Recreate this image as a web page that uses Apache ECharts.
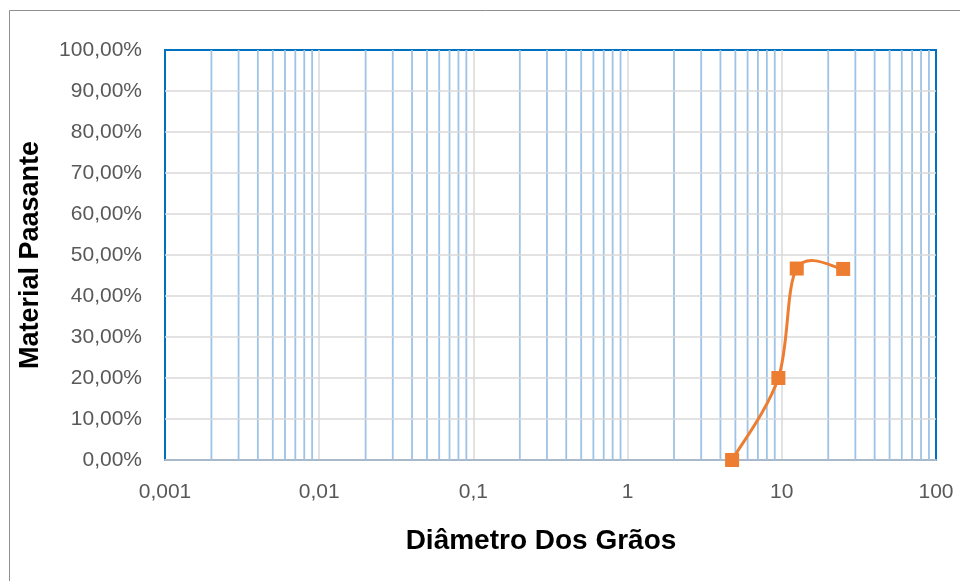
<!DOCTYPE html>
<html>
<head>
<meta charset="utf-8">
<script src="https://cdn.jsdelivr.net/npm/echarts@6/dist/echarts.min.js"></script>
<style>
  html, body { margin: 0; padding: 0; background: #ffffff; }
  #chart { width: 960px; height: 581px; }
</style>
</head>
<body>
<div id="chart"></div>
<script>
// Grain size distribution: diameter (mm) vs. percent passing
const diameters = [4.76, 9.5, 12.5, 25];
const passing = [0, 20, 46.7, 46.6];

// Axis labels
const xTickLabels = ['0,001', '0,01', '0,1', '1', '10', '100'];
const xTitle = 'Diâmetro Dos Grãos';
const yTitle = 'Material Paasante';

// Decades and the in-between multiples used for the minor vertical lines
const decades = [0.001, 0.01, 0.1, 1, 10];
const multiples = [2, 3, 4, 5, 6, 7, 8, 9];
const minorLines = [];
decades.forEach(d => multiples.forEach(m => minorLines.push([d * m, 0])));

const points = diameters.map((d, i) => [d, passing[i]]);

// Minor gridline: a full-height vertical segment at the given diameter
function renderMinorLine(params, api) {
  const v = api.value(0);
  const top = api.coord([v, 100]);
  const bottom = api.coord([v, 0]);
  return {
    type: 'line',
    silent: true,
    shape: { x1: top[0], y1: top[1], x2: bottom[0], y2: bottom[1] },
    style: { stroke: '#9dc3e6', lineWidth: 1.8 }
  };
}

// Smoothed curve through the points (cardinal spline, computed in pixel space)
function renderCurve(params, api) {
  const p = points.map(pt => api.coord(pt));
  const n = p.length;
  const children = [];
  for (let i = 0; i < n - 1; i++) {
    const p0 = p[Math.max(i - 1, 0)];
    const p1 = p[i];
    const p2 = p[i + 1];
    const p3 = p[Math.min(i + 2, n - 1)];
    children.push({
      type: 'bezierCurve',
      shape: {
        x1: p1[0], y1: p1[1],
        x2: p2[0], y2: p2[1],
        cpx1: p1[0] + (p2[0] - p0[0]) / 6,
        cpy1: p1[1] + (p2[1] - p0[1]) / 6,
        cpx2: p2[0] - (p3[0] - p1[0]) / 6,
        cpy2: p2[1] - (p3[1] - p1[1]) / 6
      },
      style: { stroke: '#ed7d31', lineWidth: 3, fill: null, lineCap: 'round', lineJoin: 'round' }
    });
  }
  return { type: 'group', children: children };
}

const chart = echarts.init(document.getElementById('chart'), null, { renderer: 'canvas' });

chart.setOption({
  animation: false,
  backgroundColor: '#ffffff',
  grid: {
    left: 165, right: 24, top: 50, bottom: 121,
    show: true,
    backgroundColor: 'transparent',
    borderColor: '#0070c0',
    borderWidth: 2,
    outerBoundsMode: 'none'
  },
  xAxis: {
    type: 'log',
    logBase: 10,
    min: 0.001,
    max: 100,
    axisLine: { show: true, lineStyle: { color: '#a9b9c9', width: 2 } },
    axisTick: { show: false },
    axisLabel: {
      margin: 22,
      color: '#595959',
      fontFamily: 'Liberation Sans, Arial, sans-serif',
      fontSize: 21,
      formatter: v => xTickLabels[Math.round(Math.log10(v)) + 3]
    },
    splitLine: {
      show: true,
      showMinLine: false,
      showMaxLine: false,
      lineStyle: { color: '#d9d9d9', width: 1.5 }
    }
  },
  yAxis: {
    type: 'value',
    min: 0,
    max: 100,
    interval: 10,
    z: 1.5,
    axisLine: { show: false },
    axisTick: { show: false },
    axisLabel: {
      margin: 23,
      color: '#595959',
      fontFamily: 'Liberation Sans, Arial, sans-serif',
      fontSize: 21,
      formatter: v => v.toFixed(2).replace('.', ',') + '%'
    },
    splitLine: {
      show: true,
      showMinLine: false,
      showMaxLine: false,
      lineStyle: { color: '#d9d9d9', width: 1.5 }
    }
  },
  graphic: [
    {
      type: 'rect',
      silent: true,
      shape: { x: 9.5, y: 10.5, width: 1000, height: 1000 },
      style: { fill: 'none', stroke: '#8f8f8f', lineWidth: 1 }
    },
    {
      type: 'text',
      x: 31, y: 255,
      rotation: Math.PI / 2,
      style: {
        text: yTitle,
        fill: '#000000',
        font: 'bold 27px "Liberation Sans", Arial, sans-serif',
        textAlign: 'center',
        textVerticalAlign: 'middle'
      }
    },
    {
      type: 'text',
      x: 541, y: 541,
      style: {
        text: xTitle,
        fill: '#000000',
        font: 'bold 28px "Liberation Sans", Arial, sans-serif',
        textAlign: 'center',
        textVerticalAlign: 'middle'
      }
    }
  ],
  series: [
    {
      // minor vertical gridlines between the decades
      type: 'custom',
      z: 1,
      silent: true,
      renderItem: renderMinorLine,
      data: minorLines
    },
    {
      type: 'custom',
      z: 3,
      silent: true,
      clip: false,
      renderItem: renderCurve,
      data: [points[0]]
    },
    {
      type: 'scatter',
      z: 4,
      data: points,
      symbol: 'rect',
      symbolSize: 14,
      itemStyle: { color: '#ed7d31', opacity: 1 }
    }
  ]
});
</script>
</body>
</html>
